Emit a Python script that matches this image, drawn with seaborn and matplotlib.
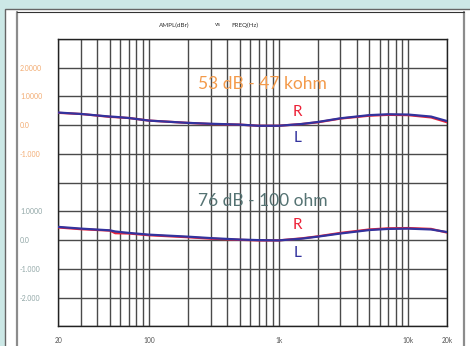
import numpy as np
import pandas as pd
import matplotlib
matplotlib.use("Agg")
import matplotlib.pyplot as plt
from matplotlib.patches import Rectangle
from matplotlib.lines import Line2D
import seaborn as sns

# frequency points (Hz)
freq = [20, 30, 50, 55, 70, 100, 200, 300, 500, 700, 1000, 1500, 2000, 3000, 5000, 7000, 10000, 15000, 20000]
# 53 dB - 47 kohm (dBr)
hi_R = [0.43, 0.39, 0.29, 0.28, 0.25, 0.16, 0.08, 0.04, 0.02, -0.02, -0.02, 0.04, 0.10, 0.23, 0.33, 0.36, 0.35, 0.27, 0.10]
hi_L = [0.44, 0.39, 0.30, 0.29, 0.25, 0.16, 0.08, 0.05, 0.02, -0.02, -0.02, 0.04, 0.11, 0.24, 0.35, 0.38, 0.37, 0.30, 0.14]
# 76 dB - 100 ohm (dBr)
lo_R = [0.44, 0.38, 0.33, 0.24, 0.23, 0.17, 0.10, 0.05, 0.01, -0.01, -0.01, 0.06, 0.13, 0.25, 0.37, 0.41, 0.42, 0.39, 0.26]
lo_L = [0.46, 0.40, 0.34, 0.30, 0.25, 0.19, 0.12, 0.07, 0.02, 0.00, -0.01, 0.05, 0.12, 0.23, 0.35, 0.39, 0.40, 0.37, 0.28]

# the two traces share one grid; the upper one is shifted by 4 divisions
offset_hi = 4
ytick_vals = [6, 5, 4, 3, 1, 0, -1, -2]
ytick_txt = ["2.0000", "1.0000", "0.0", "-1.000", "1.0000", "0.0", "-1.000", "-2.000"]
xticks_major = [20, 100, 1000, 10000, 20000]
xticks_txt = ["20", "100", "1k", "10k", "20k"]
xticks_minor = [m * d for d in (10, 100, 1000) for m in range(2, 10)][1:]

ORANGE = "#f39a4a"
ORANGE_LBL = "#f2aa70"
TEAL = "#557373"
TEAL_LBL = "#8fa5a5"
RED = "#ec2238"
BLUE = "#33339e"

sns.set_style("white")
plt.rcParams["font.family"] = ["Lato", "DejaVu Sans"]

fig = plt.figure(figsize=(4.70, 3.46), dpi=100)
fig.patch.set_facecolor("#cce8e6")
W, H = 470.0, 346.0

# page frames
fig.patches.append(Rectangle((5 / W, -0.2), 1.2, (346 - 9) / H + 0.2, transform=fig.transFigure,
                             facecolor="white", edgecolor="#666666", lw=1.0, zorder=-3))
fig.lines.append(Line2D([17 / W, 17 / W], [0, 1 - 12 / H], transform=fig.transFigure, color="#8c8c8c", lw=1.6, zorder=-2))
fig.lines.append(Line2D([463.5 / W, 463.5 / W], [0, 1 - 12 / H], transform=fig.transFigure, color="#8c8c8c", lw=1.6, zorder=-2))
fig.lines.append(Line2D([17 / W, 463.5 / W], [1 - 12 / H, 1 - 12 / H], transform=fig.transFigure, color="#333333", lw=0.8, zorder=-2))

ax = fig.add_axes([58.3 / W, 1 - 326.3 / H, (447.3 - 58.3) / W, (326.3 - 39) / H])
ax.set_facecolor("white")

df = pd.DataFrame({"freq": freq * 4,
                   "val": [v + offset_hi for v in hi_R] + [v + offset_hi for v in hi_L] + lo_R + lo_L,
                   "trace": ["hiR"] * len(freq) + ["hiL"] * len(freq) + ["loR"] * len(freq) + ["loL"] * len(freq)})
sns.lineplot(data=df, x="freq", y="val", hue="trace", hue_order=["hiR", "loR", "hiL", "loL"],
             palette={"hiR": RED, "loR": RED, "hiL": BLUE, "loL": BLUE},
             linewidth=1.6, legend=False, ax=ax, zorder=3)

ax.set_xscale("log")
ax.set_xlim(20, 20000)
ax.set_ylim(-3, 7)
ax.set_xticks(xticks_major)
ax.set_xticklabels(xticks_txt)
ax.set_xticks(xticks_minor, minor=True)
ax.set_xticklabels([], minor=True)
ax.set_yticks(range(-3, 8))
ax.set_yticklabels([ytick_txt[ytick_vals.index(v)] if v in ytick_vals else "" for v in range(-3, 8)])
for lbl, v in zip(ax.get_yticklabels(), range(-3, 8)):
    lbl.set_color(ORANGE_LBL if v >= 3 else TEAL_LBL)
    lbl.set_horizontalalignment("left")
ax.tick_params(axis="y", which="both", length=0, pad=38.3 * 0.72, labelsize=5)
ax.tick_params(axis="x", which="both", length=0, pad=8, labelsize=4.8, labelcolor="#555555")
ax.grid(True, which="both", color="#4a4a4a", lw=1.0)
ax.set_axisbelow(True)
ax.set_xlabel("")
ax.set_ylabel("")
for s in ax.spines.values():
    s.set_visible(True)
    s.set_color("#222222")
    s.set_linewidth(1.0)

ax.text(757, 5.43, "53 dB - 47 kohm", color=ORANGE, fontsize=12.5, ha="center", va="center", zorder=4)
ax.text(757, 1.35, "76 dB - 100 ohm", color=TEAL, fontsize=12.5, ha="center", va="center", zorder=4)
for yR, yL in ((4.47, 3.54), (0.51, -0.46)):
    ax.text(1393, yR, "R", color=RED, fontsize=11, ha="center", va="center", zorder=4)
    ax.text(1393, yL, "L", color=BLUE, fontsize=11, ha="center", va="center", zorder=4)

fig.text(174.5 / W, 1 - 25 / H, "AMPL(dBr)", fontsize=4.5, color="#333333", ha="center", va="center")
fig.text(218 / W, 1 - 25 / H, "vs", fontsize=4.5, color="#333333", ha="center", va="center")
fig.text(245 / W, 1 - 25 / H, "FREQ(Hz)", fontsize=4.5, color="#333333", ha="center", va="center")

fig.savefig("out.png", dpi=100, facecolor=fig.get_facecolor())
